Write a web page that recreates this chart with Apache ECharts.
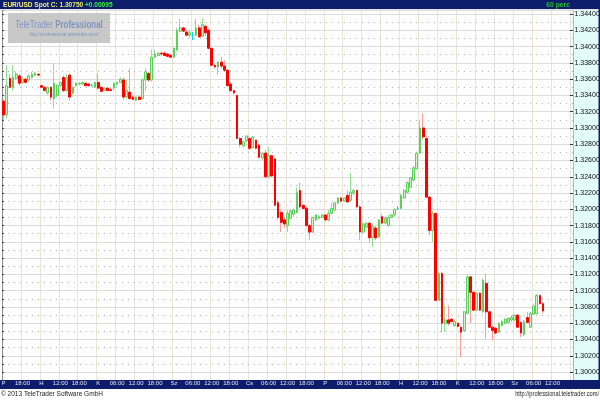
<!DOCTYPE html>
<html><head><meta charset="utf-8">
<script src="https://cdn.jsdelivr.net/npm/echarts@6/dist/echarts.min.js"></script>
<style>html,body{margin:0;padding:0;background:#fff}#c{width:600px;height:400px}</style>
</head><body><div id="c"></div>
<script>
// Trading sessions per day (day letter, first hour, last hour) - hourly candles
const daySegments = [['P',12,23],['H',6,23],['K',0,23],['Sz',0,23],['Cs',0,23],['P',0,23],['H',6,23],['K',6,23],['Sz',0,18]];

const openP = [
1.3333,1.3316,1.3361,1.3350,1.3361,1.3364,1.3356,1.3360,1.3359,1.3362,
1.3365,1.3366,1.3352,1.3350,1.3343,1.3350,1.3336,1.3340,1.3352,1.3362,
1.3346,1.3365,1.3343,1.3352,1.3354,1.3354,1.3355,1.3354,1.3352,1.3350,
1.3356,1.3350,1.3346,1.3349,1.3347,1.3349,1.3354,1.3356,1.3359,1.3338,
1.3344,1.3338,1.3334,1.3338,1.3336,1.3359,1.3367,1.3359,1.3387,1.3389,
1.3392,1.3392,1.3391,1.3389,1.3387,1.3396,1.3419,1.3423,1.3418,1.3414,
1.3414,1.3414,1.3423,1.3413,1.3425,1.3420,1.3398,1.3377,1.3375,1.3381,
1.3376,1.3371,1.3354,1.3346,1.3340,1.3287,1.3278,1.3284,1.3287,1.3276,
1.3285,1.3279,1.3263,1.3269,1.3240,1.3266,1.3262,1.3208,1.3196,1.3187,
1.3180,1.3189,1.3194,1.3196,1.3223,1.3205,1.3201,1.3180,1.3172,1.3187,
1.3189,1.3190,1.3193,1.3187,1.3195,1.3199,1.3208,1.3214,1.3210,1.3217,
1.3211,1.3220,1.3223,1.3203,1.3172,1.3178,1.3183,1.3165,1.3177,1.3166,
1.3191,1.3183,1.3180,1.3190,1.3193,1.3201,1.3201,1.3214,1.3221,1.3227,
1.3236,1.3250,1.3269,1.3300,1.3287,1.3215,1.3174,1.3195,1.3088,1.3121,
1.3060,1.3064,1.3065,1.3057,1.3060,1.3055,1.3051,1.3072,1.3117,1.3098,
1.3076,1.3097,1.3074,1.3109,1.3074,1.3055,1.3054,1.3049,1.3057,1.3060,
1.3061,1.3064,1.3064,1.3070,1.3061,1.3046,1.3067,1.3055,1.3071,1.3072,
1.3094,1.3084];
const highP = [
1.3335,1.3377,1.3366,1.3377,1.3369,1.3366,1.3362,1.3361,1.3366,1.3369,
1.3369,1.3367,1.3353,1.3351,1.3351,1.3351,1.3380,1.3354,1.3357,1.3365,
1.3366,1.3367,1.3351,1.3356,1.3356,1.3357,1.3356,1.3355,1.3354,1.3357,
1.3367,1.3351,1.3350,1.3350,1.3349,1.3356,1.3357,1.3362,1.3362,1.3359,
1.3373,1.3340,1.3339,1.3339,1.3361,1.3373,1.3369,1.3396,1.3396,1.3393,
1.3393,1.3394,1.3392,1.3391,1.3399,1.3423,1.3434,1.3424,1.3419,1.3420,
1.3418,1.3434,1.3427,1.3435,1.3427,1.3422,1.3399,1.3378,1.3382,1.3387,
1.3383,1.3372,1.3356,1.3347,1.3341,1.3289,1.3284,1.3291,1.3289,1.3290,
1.3286,1.3280,1.3270,1.3273,1.3276,1.3267,1.3263,1.3211,1.3199,1.3189,
1.3199,1.3200,1.3201,1.3227,1.3233,1.3206,1.3203,1.3182,1.3191,1.3194,
1.3193,1.3194,1.3194,1.3199,1.3208,1.3209,1.3215,1.3215,1.3215,1.3223,
1.3245,1.3225,1.3225,1.3205,1.3184,1.3184,1.3184,1.3182,1.3179,1.3188,
1.3194,1.3191,1.3193,1.3194,1.3201,1.3204,1.3219,1.3225,1.3234,1.3240,
1.3253,1.3271,1.3310,1.3318,1.3290,1.3216,1.3198,1.3196,1.3123,1.3123,
1.3082,1.3082,1.3066,1.3064,1.3061,1.3056,1.3075,1.3119,1.3118,1.3100,
1.3098,1.3098,1.3115,1.3121,1.3075,1.3056,1.3055,1.3061,1.3064,1.3066,
1.3067,1.3070,1.3071,1.3071,1.3062,1.3064,1.3074,1.3074,1.3083,1.3096,
1.3096,1.3086];
const lowP = [
1.3310,1.3312,1.3349,1.3346,1.3359,1.3352,1.3354,1.3355,1.3357,1.3361,
1.3364,1.3364,1.3349,1.3345,1.3341,1.3334,1.3324,1.3338,1.3351,1.3344,
1.3344,1.3334,1.3341,1.3351,1.3353,1.3353,1.3351,1.3351,1.3351,1.3349,
1.3347,1.3344,1.3345,1.3345,1.3345,1.3347,1.3352,1.3355,1.3335,1.3336,
1.3335,1.3334,1.3333,1.3334,1.3335,1.3346,1.3357,1.3357,1.3386,1.3388,
1.3389,1.3388,1.3387,1.3386,1.3386,1.3394,1.3418,1.3418,1.3413,1.3411,
1.3408,1.3413,1.3411,1.3412,1.3413,1.3397,1.3376,1.3373,1.3365,1.3373,
1.3370,1.3351,1.3344,1.3341,1.3286,1.3276,1.3276,1.3283,1.3273,1.3275,
1.3274,1.3263,1.3261,1.3238,1.3238,1.3240,1.3204,1.3187,1.3172,1.3177,
1.3172,1.3188,1.3191,1.3195,1.3201,1.3200,1.3179,1.3162,1.3171,1.3185,
1.3188,1.3189,1.3185,1.3185,1.3194,1.3198,1.3206,1.3209,1.3209,1.3208,
1.3210,1.3217,1.3201,1.3162,1.3171,1.3177,1.3159,1.3154,1.3162,1.3165,
1.3182,1.3182,1.3179,1.3189,1.3191,1.3199,1.3200,1.3213,1.3220,1.3226,
1.3234,1.3249,1.3268,1.3286,1.3214,1.3168,1.3160,1.3087,1.3087,1.3049,
1.3049,1.3057,1.3061,1.3056,1.3055,1.3018,1.3050,1.3071,1.3060,1.3075,
1.3075,1.3075,1.3072,1.3041,1.3054,1.3039,1.3046,1.3048,1.3056,1.3059,
1.3060,1.3062,1.3062,1.3054,1.3043,1.3044,1.3060,1.3054,1.3070,1.3071,
1.3083,1.3072];
const closeP = [
1.3316,1.3352,1.3350,1.3362,1.3366,1.3355,1.3360,1.3356,1.3364,1.3366,
1.3367,1.3365,1.3350,1.3346,1.3350,1.3338,1.3355,1.3352,1.3356,1.3346,
1.3362,1.3338,1.3350,1.3355,1.3355,1.3356,1.3352,1.3352,1.3352,1.3356,
1.3349,1.3345,1.3349,1.3346,1.3346,1.3355,1.3356,1.3360,1.3338,1.3346,
1.3336,1.3335,1.3338,1.3335,1.3359,1.3369,1.3359,1.3387,1.3391,1.3392,
1.3391,1.3389,1.3388,1.3387,1.3398,1.3420,1.3423,1.3419,1.3414,1.3417,
1.3414,1.3423,1.3412,1.3427,1.3417,1.3398,1.3377,1.3375,1.3381,1.3376,
1.3371,1.3352,1.3346,1.3343,1.3287,1.3280,1.3283,1.3290,1.3275,1.3289,
1.3275,1.3264,1.3269,1.3240,1.3266,1.3241,1.3205,1.3190,1.3184,1.3182,
1.3195,1.3198,1.3199,1.3221,1.3203,1.3201,1.3180,1.3172,1.3190,1.3193,
1.3191,1.3193,1.3187,1.3195,1.3201,1.3208,1.3214,1.3210,1.3214,1.3209,
1.3221,1.3223,1.3203,1.3172,1.3182,1.3183,1.3165,1.3179,1.3165,1.3187,
1.3183,1.3189,1.3190,1.3193,1.3200,1.3201,1.3217,1.3223,1.3233,1.3239,
1.3251,1.3269,1.3300,1.3289,1.3215,1.3174,1.3195,1.3088,1.3121,1.3060,
1.3064,1.3060,1.3062,1.3062,1.3056,1.3049,1.3074,1.3117,1.3098,1.3076,
1.3097,1.3076,1.3113,1.3074,1.3055,1.3051,1.3048,1.3060,1.3062,1.3065,
1.3066,1.3067,1.3070,1.3055,1.3048,1.3062,1.3061,1.3072,1.3081,1.3094,
1.3084,1.3075];

const yMin = 1.298, yMax = 1.3445, yStep = 0.002;
const symbolName = 'EUR/USD Spot';
const changeText = '+0.00095';
const periodText = '60 perc';
const lastClose = closeP[closeP.length - 1];

const FONT = "'Liberation Sans',Arial,sans-serif";
const NAVY = '#0e1c6c';
const LOGO = '#8194c0';

const categories = [], catLabels = [];
daySegments.forEach(([d, h0, h1]) => {
  for (let h = h0; h <= h1; h++) {
    const hh = String(h).padStart(2, '0') + ':00';
    categories.push(d + ' ' + hh);
    catLabels.push(h === h0 ? d : (h % 6 === 0 ? hh : ''));
  }
});
const isMarked = i => catLabels[i] !== '';
const showLabel = i => isMarked(i) && i < categories.length - 3;

const wickData = openP.map((o, i) => [o, closeP[i], lowP[i], highP[i]]);
const bodyData = openP.map((o, i) => [o, closeP[i], Math.min(o, closeP[i]), Math.max(o, closeP[i])]);

const chart = echarts.init(document.getElementById('c'), null, {renderer: 'canvas'});
chart.setOption({
  animation: false,
  backgroundColor: '#ffffff',
  grid: {left: 2, right: 27, top: 10, height: 378.3, containLabel: false, outerBoundsMode: 'none'},
  xAxis: [
    {type: 'category', data: categories, boundaryGap: true, z: 4,
     axisLine: {show: false}, axisTick: {show: false}, axisLabel: {show: false},
     splitLine: {show: true, interval: (i) => isMarked(i), lineStyle: {color: '#ebe5d3', width: 1}}},
    {type: 'category', data: categories, boundaryGap: true, z: 40, position: 'bottom',
     axisLine: {show: false}, axisTick: {show: false}, splitLine: {show: false},
     axisLabel: {show: true, interval: (i) => showLabel(i), formatter: (v, i) => catLabels[i],
       margin: -7.5, fontSize: 6, fontFamily: FONT, color: '#e4e4ee'}}
  ],
  yAxis: [
    {type: 'value', position: 'right', min: yMin, max: yMax, interval: yStep, z: 5,
     axisLine: {show: true, lineStyle: {color: '#cdb24a', type: 'dotted'}},
     axisTick: {show: true, inside: true, length: 3, lineStyle: {color: '#333'}},
     minorTick: {show: false, splitNumber: 2},
     minorSplitLine: {show: true, lineStyle: {color: '#b4b4b4', type: [1, 5]}},
     splitLine: {show: true, lineStyle: {color: '#dcdcdc'}},
     axisLabel: {margin: 1.5, fontSize: 7, fontFamily: FONT, color: '#111', showMaxLabel: false,
       formatter: v => v.toFixed(5)}},
    {type: 'value', position: 'left', min: yMin, max: yMax, interval: yStep / 2, z: 5,
     axisLine: {show: true, lineStyle: {color: '#888'}},
     axisTick: {show: true, inside: true, length: 2, lineStyle: {color: '#444'}},
     axisLabel: {show: false}, splitLine: {show: false}}
  ],
  graphic: [
    {type: 'rect', z: 1, shape: {x: 573, y: 9, width: 25, height: 372}, style: {fill: '#e2fcfc'}},
    {type: 'rect', z: 20, shape: {x: 0, y: 0, width: 600, height: 9}, style: {fill: NAVY}},
    {type: 'rect', z: 20, shape: {x: 0, y: 9, width: 598, height: 1.5}, style: {fill: '#e2e2e2'}},
    {type: 'rect', z: 20, shape: {x: 598.5, y: 0, width: 1.5, height: 389}, style: {fill: NAVY}},
    {type: 'rect', z: 20, shape: {x: 0, y: 380, width: 600, height: 9}, style: {fill: NAVY}},
    {type: 'rect', z: 20, shape: {x: 0, y: 389, width: 600, height: 11}, style: {fill: '#ffffff'}},
    {type: 'text', z: 25, x: 3, y: 4.5, scaleX: 0.82,
     style: {text: '{a|' + symbolName + '} {b|C: ' + lastClose.toFixed(5) + '} {c|' + changeText + '}',
       verticalAlign: 'middle', align: 'left', fontSize: 8, fontFamily: FONT, fontWeight: 'bold',
       rich: {a: {fill: '#f4f07a', color: '#f4f07a', fontSize: 8, fontFamily: FONT, fontWeight: 'bold'},
              b: {fill: '#e8f060', color: '#e8f060', fontSize: 8, fontFamily: FONT, fontWeight: 'bold'},
              c: {fill: '#3cf03c', color: '#3cf03c', fontSize: 8, fontFamily: FONT, fontWeight: 'bold'}}}},
    {type: 'text', z: 25, x: 570, y: 4.5, scaleX: 0.85,
     style: {text: periodText, align: 'right', verticalAlign: 'middle', fontSize: 8, fontFamily: FONT, fontWeight: 'bold', fill: '#22c022'}},
    {type: 'text', z: 25, x: 1, y: 394.5, scaleX: 0.93,
     style: {text: '© 2013 TeleTrader Software GmbH', fontSize: 7, fontFamily: FONT, fill: '#222', verticalAlign: 'middle', align: 'left'}},
    {type: 'text', z: 25, x: 599, y: 394.5, scaleX: 0.81,
     style: {text: 'http://professional.teletrader.com/', fontSize: 7, fontFamily: FONT, fill: '#222', verticalAlign: 'middle', align: 'right'}},
    {type: 'rect', z: 12, shape: {x: 8, y: 13, width: 102, height: 30}, style: {fill: '#c8c8c8'}},
    {type: 'text', z: 13, x: 59, y: 24.5, scaleX: 0.69,
     style: {text: '{n|TeleTrader} {b|Professional}', align: 'center', verticalAlign: 'middle',
      rich: {n: {fontSize: 11.5, fontFamily: FONT, fill: LOGO, color: LOGO},
             b: {fontSize: 11.5, fontFamily: FONT, fontWeight: 'bold', fill: LOGO, color: LOGO}}}},
    {type: 'text', z: 13, x: 64, y: 34.5, scaleX: 0.78,
     style: {text: 'http://professional.teletrader.com/', align: 'center', verticalAlign: 'middle', fontSize: 6, fontFamily: FONT, fill: LOGO}}
  ],
  series: [
    {type: 'candlestick', name: 'wicks', data: wickData, xAxisIndex: 0, yAxisIndex: 0, barWidth: 1, z: 6, silent: true,
     itemStyle: {color: '#8fe08f', color0: '#ff9c9c', borderColor: '#8fe08f', borderColor0: '#ff9c9c', borderColorDoji: '#00d8ea', borderWidth: 1}},
    {type: 'candlestick', name: 'bodies', data: bodyData, xAxisIndex: 0, yAxisIndex: 0, barWidth: 2.2, z: 7, silent: true,
     itemStyle: {color: '#d2f5ca', color0: '#ff0000', borderColor: '#5ccf5c', borderColor0: '#ff0000', borderColorDoji: '#00d8ea', borderWidth: 1},
     markLine: {silent: true, symbol: ['none', 'none'], animation: false, lineStyle: {opacity: 0},
       label: {show: true, position: 'end', distance: 1, formatter: () => lastClose.toFixed(5),
         backgroundColor: '#ffff70', color: '#000', fontSize: 7, fontFamily: FONT, padding: [1.5, 1, 1, 1],
         borderColor: '#b8a000', borderWidth: 0.5},
       data: [{yAxis: lastClose}]}}
  ]
});
</script></body></html>
